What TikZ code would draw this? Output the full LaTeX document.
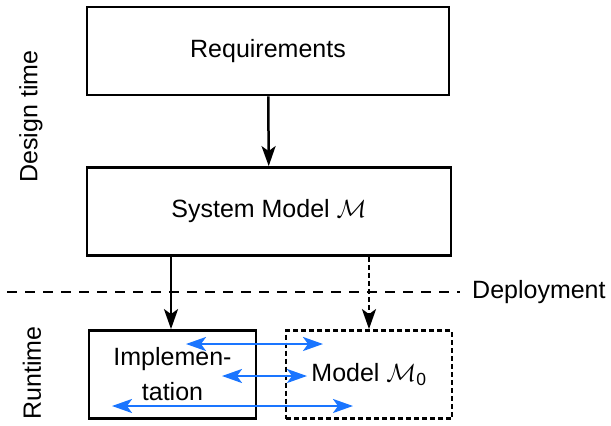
\documentclass[tikz,border=0pt]{standalone}
\usepackage{amsmath}
\usepackage{fontspec}
\setmainfont{Liberation Sans}
\usetikzlibrary{arrows.meta}

\tikzset{
  box/.style={draw, line width=2.8pt, minimum width=#1, minimum height=88pt, inner sep=0pt, align=center},
  flow/.style={-{Stealth[length=20pt,width=14pt,inset=5pt]}, line width=2.5pt},
  sync/.style={{Stealth[length=20pt,width=14pt,inset=5pt]}-{Stealth[length=20pt,width=14pt,inset=5pt]}, line width=2.5pt, color=syncblue},
  phase/.style={rotate=90},
  dots/.style={dash pattern=on 5pt off 3pt}
}
\definecolor{syncblue}{RGB}{26,117,255}

\begin{document}
\begin{tikzpicture}[x=1pt,y=-1pt, font=\fontsize{25}{35}\selectfont]
  \useasboundingbox (0,0) rectangle (611,426);

  \node[box=362pt] (req) at (268,51) {Requirements};
  \node[box=364pt] (sys) at (269,211.5) {System Model $\mathcal{M}$};
  \node[box=167pt] (impl) at (172.5,374.5) {Implemen-\\tation};
  \node[box=166pt, dots] (model) at (369,374.5) {Model $\mathcal{M}_{\text{0}}$};

  \node[phase] (design) at (31,116.5) {Design time};
  \node[phase] (run) at (32,373) {Runtime};
  \node[anchor=west, inner sep=0pt] (dep) at (472,292) {Deployment};
  \coordinate (depstart) at (7,292);

  \draw[line width=2.5pt, dash pattern=on 10pt off 8pt] (depstart) -- ([xshift=-12pt]dep.west);

  \draw[flow] (req) -- (sys);
  \draw[flow] (sys.south -| 171,0) -- (impl.north -| 171,0);
  \draw[flow, dots] (sys.south -| model) -- (model);

  % links between the running system and its model
  \coordinate (l1) at (186,344);  \coordinate (r1) at (323,344);
  \coordinate (l2) at (222,376);  \coordinate (r2) at (307,376);
  \coordinate (l3) at (112,406);  \coordinate (r3) at (353,406);
  \foreach \i in {1,2,3}
    \draw[sync] (l\i) -- (r\i);
\end{tikzpicture}
\end{document}
